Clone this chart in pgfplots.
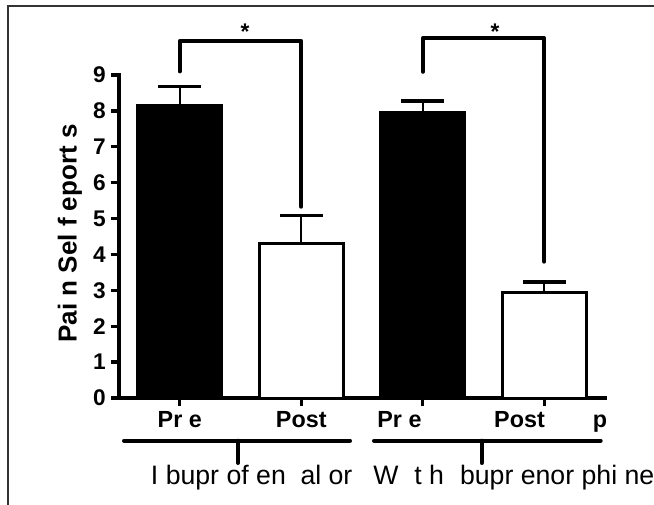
\documentclass[border=0pt]{standalone}
\usepackage{pgfplots}
\pgfplotsset{compat=1.18}
\usepackage{fontspec}
\setmainfont{Liberation Sans}
\begin{document}
\begin{tikzpicture}
\useasboundingbox (0,0) rectangle (490.5pt,378pt);
\begin{axis}[
  at={(89.25pt,79.5pt)}, anchor=south west,
  scale only axis, width=364.5pt, height=242.25pt,
  xmin=-0.5, xmax=3.5, ymin=0, ymax=9,
  axis lines*=left,
  axis line style={line width=3pt, line cap=rect},
  clip=false,
  ytick={0,1,2,3,4,5,6,7,8,9},
  xtick={0,1,2,3},
  xticklabels={Pr e, Post, \makebox[68pt][l]{Pr e}, \makebox[75pt][l]{Post\hspace{36pt}p}},
  tick align=outside,
  major tick length=6pt,
  tick style={line width=2.5pt, black},
  /pgf/number format/assume math mode=true,
  yticklabel style={font=\fontsize{17}{17}\selectfont\bfseries, xshift=-0.5pt},
  xticklabel style={font=\fontsize{17.5}{18}\selectfont\bfseries, yshift=-0.5pt},
]
\addplot[ybar, bar shift=0pt, bar width=0.69, fill=black, draw=black, line width=2pt,
  error bars/.cd, y dir=plus, y explicit,
  error bar style={line width=1.6pt, black},
  error mark options={rotate=90, line width=2.6pt, mark size=16pt, black}]
  coordinates {(0,8.15) +- (0,0.53) (2,7.97) +- (0,0.31)};
\addplot[ybar, bar shift=0pt, bar width=0.69, fill=white, draw=black, line width=2.2pt,
  error bars/.cd, y dir=plus, y explicit,
  error bar style={line width=1.6pt, black},
  error mark options={rotate=90, line width=2.6pt, mark size=16pt, black}]
  coordinates {(1,4.31) +- (0,0.77) (3,2.93) +- (0,0.30)};
\draw[line width=3pt, line cap=round, line join=round] (axis cs:0,9.1) |- (axis cs:1,9.95) -- (axis cs:1,5.33);
\draw[line width=3pt, line cap=round, line join=round] (axis cs:2,9.09) |- (axis cs:3,10.02) -- (axis cs:3,3.8);
\end{axis}
\begin{scope}[yshift=378pt, x=0.75pt, y=-0.75pt]
  % frame
  \draw[line width=1.6pt, black!80] (8,510) -- (8,6) -- (660,6);
  % stars
  \node[anchor=base, inner sep=0pt, font=\fontsize{17}{17}\selectfont\bfseries] at (245,40) {*};
  \node[anchor=base, inner sep=0pt, font=\fontsize{17}{17}\selectfont\bfseries] at (495,40) {*};
  % group brackets
  \draw[line width=3pt, line cap=round] (124,440.7) -- (350,440.7);
  \draw[line width=3pt, line cap=round] (238,440.7) -- (238,463);
  \draw[line width=3pt, line cap=round] (374,440.7) -- (600.7,440.7);
  \draw[line width=3pt, line cap=round] (481.7,440.7) -- (481.7,463);
  % group labels
  \node[anchor=base west, inner sep=0pt, font=\fontsize{20}{20}\selectfont] at (150.7,484.3) {I bupr of en\hspace{0.55em}al or};
  \node[anchor=base west, inner sep=0pt, font=\fontsize{20}{20}\selectfont] at (373,484.3) {W\hspace{0.6em}t h\hspace{0.6em}bupr enor phi ne};
  % y label
  \node[rotate=90, inner sep=0pt, font=\fontsize{19.5}{20}\selectfont\bfseries] at (70,233.5) {Pai n Sel f eport s};
\end{scope}
\end{tikzpicture}
\end{document}
